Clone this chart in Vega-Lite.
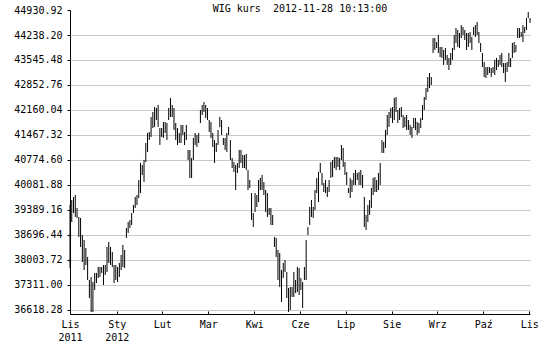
{
  "$schema": "https://vega.github.io/schema/vega-lite/v6.json",
  "width": 460,
  "height": 304,
  "autosize": "none",
  "padding": {"left": 70, "top": 10, "right": 20, "bottom": 36},
  "background": "white",
  "title": {"text": "WIG kurs\u00a0 2012-11-28 10:13:00", "font": "DejaVu Sans Mono", "fontSize": 10, "fontWeight": "normal", "color": "black", "anchor": "middle", "offset": -9},
  "config": {"view": {"stroke": null}},
  "data": {"values": [
{"i":0,"lo":37782,"hi":39528},{"i":1,"lo":39057,"hi":39666},{"i":2,"lo":39306,"hi":39750},{"i":3,"lo":39196,"hi":39805},{"i":4,"lo":39168,"hi":39445},
{"i":5,"lo":38641,"hi":39196},{"i":6,"lo":38364,"hi":39168},{"i":7,"lo":37948,"hi":38697},{"i":8,"lo":37727,"hi":38558},{"i":9,"lo":37865,"hi":38336},
{"i":10,"lo":37450,"hi":38087},{"i":11,"lo":36951,"hi":37450},{"i":12,"lo":36563,"hi":37533},{"i":13,"lo":36563,"hi":37393},{"i":14,"lo":37172,"hi":37644},
{"i":15,"lo":37366,"hi":37644},{"i":16,"lo":37505,"hi":37810},{"i":17,"lo":37533,"hi":37810},{"i":18,"lo":37644,"hi":37810},{"i":19,"lo":37311,"hi":37865},
{"i":20,"lo":37588,"hi":37865},{"i":21,"lo":37671,"hi":38364},{"i":22,"lo":37921,"hi":38503},{"i":23,"lo":37865,"hi":38364},{"i":24,"lo":37810,"hi":38226},
{"i":25,"lo":37366,"hi":37865},{"i":26,"lo":37450,"hi":37865},{"i":27,"lo":37393,"hi":37810},{"i":28,"lo":37533,"hi":37921},{"i":29,"lo":37727,"hi":38142},
{"i":30,"lo":37810,"hi":38420},{"i":31,"lo":37782,"hi":38281},{"i":32,"lo":38614,"hi":38891},{"i":33,"lo":38752,"hi":39057},{"i":34,"lo":38891,"hi":39113},
{"i":35,"lo":38974,"hi":39306},{"i":36,"lo":39306,"hi":39528},{"i":37,"lo":39445,"hi":39750},{"i":38,"lo":39528,"hi":39805},{"i":39,"lo":39722,"hi":40221},
{"i":40,"lo":39860,"hi":40692},{"i":41,"lo":40359,"hi":40636},{"i":42,"lo":40165,"hi":40775},{"i":43,"lo":40719,"hi":41246},{"i":44,"lo":40997,"hi":41523},
{"i":45,"lo":41329,"hi":41550},{"i":46,"lo":41412,"hi":41966},{"i":47,"lo":41661,"hi":42105},{"i":48,"lo":41689,"hi":42243},{"i":49,"lo":41883,"hi":42216},
{"i":50,"lo":41689,"hi":42299},{"i":51,"lo":41191,"hi":41661},{"i":52,"lo":41412,"hi":41661},{"i":53,"lo":41385,"hi":41828},{"i":54,"lo":41523,"hi":41828},
{"i":55,"lo":41329,"hi":41800},{"i":56,"lo":41883,"hi":42216},{"i":57,"lo":41966,"hi":42493},{"i":58,"lo":41966,"hi":42299},{"i":59,"lo":41606,"hi":42216},
{"i":60,"lo":41329,"hi":41800},{"i":61,"lo":41191,"hi":41661},{"i":62,"lo":41246,"hi":41523},{"i":63,"lo":41246,"hi":41745},{"i":64,"lo":41467,"hi":41745},
{"i":65,"lo":41191,"hi":41550},{"i":66,"lo":41329,"hi":41745},{"i":67,"lo":40775,"hi":41052},{"i":68,"lo":40276,"hi":41052},{"i":69,"lo":40276,"hi":40830},
{"i":70,"lo":40775,"hi":41385},{"i":71,"lo":41191,"hi":41523},{"i":72,"lo":41135,"hi":41467},{"i":73,"lo":41246,"hi":41523},{"i":74,"lo":41800,"hi":42160},
{"i":75,"lo":42022,"hi":42299},{"i":76,"lo":42105,"hi":42382},{"i":77,"lo":41939,"hi":42299},{"i":78,"lo":41883,"hi":42216},{"i":79,"lo":41550,"hi":41883},
{"i":80,"lo":41385,"hi":41828},{"i":81,"lo":41135,"hi":41523},{"i":82,"lo":40692,"hi":41329},{"i":83,"lo":40997,"hi":41246},{"i":84,"lo":41191,"hi":41606},
{"i":85,"lo":41689,"hi":41966},{"i":86,"lo":41467,"hi":41883},{"i":87,"lo":41191,"hi":41385},{"i":88,"lo":41052,"hi":41385},{"i":89,"lo":40997,"hi":41523},
{"i":90,"lo":41467,"hi":41689},{"i":91,"lo":40775,"hi":41329},{"i":92,"lo":40553,"hi":40830},{"i":93,"lo":40442,"hi":40719},{"i":94,"lo":39943,"hi":40636},
{"i":95,"lo":40415,"hi":40692},{"i":96,"lo":40553,"hi":41052},{"i":97,"lo":40692,"hi":41052},{"i":98,"lo":40553,"hi":40913},{"i":99,"lo":40553,"hi":40913},
{"i":100,"lo":40498,"hi":40941},{"i":101,"lo":39943,"hi":40498},{"i":102,"lo":39999,"hi":40221},{"i":103,"lo":39113,"hi":39860},{"i":104,"lo":38918,"hi":39306},
{"i":105,"lo":39334,"hi":39860},{"i":106,"lo":39472,"hi":39805},{"i":107,"lo":39611,"hi":40221},{"i":108,"lo":39943,"hi":40276},{"i":109,"lo":39943,"hi":40359},
{"i":110,"lo":39805,"hi":40165},{"i":111,"lo":39334,"hi":39943},{"i":112,"lo":39196,"hi":39860},{"i":113,"lo":39251,"hi":39445},{"i":114,"lo":38974,"hi":39445},
{"i":115,"lo":38974,"hi":39251},{"i":116,"lo":38364,"hi":38641},{"i":117,"lo":38087,"hi":38614},{"i":118,"lo":37450,"hi":38281},{"i":119,"lo":37256,"hi":38198},
{"i":120,"lo":36840,"hi":37727},{"i":121,"lo":37505,"hi":37921},{"i":122,"lo":37671,"hi":38004},{"i":123,"lo":36951,"hi":37671},{"i":124,"lo":36563,"hi":37228},
{"i":125,"lo":36618,"hi":37256},{"i":126,"lo":36979,"hi":37256},{"i":127,"lo":36979,"hi":37671},{"i":128,"lo":37089,"hi":37450},{"i":129,"lo":37117,"hi":37810},
{"i":130,"lo":37034,"hi":37782},{"i":131,"lo":37172,"hi":37505},{"i":132,"lo":36674,"hi":37393},{"i":133,"lo":37450,"hi":37810},{"i":134,"lo":37450,"hi":38558},
{"i":135,"lo":38697,"hi":38918},{"i":136,"lo":38974,"hi":39472},{"i":137,"lo":39196,"hi":39666},{"i":138,"lo":39168,"hi":39472},{"i":139,"lo":39389,"hi":39943},
{"i":140,"lo":39860,"hi":40276},{"i":141,"lo":39611,"hi":40442},{"i":142,"lo":40415,"hi":40692},{"i":143,"lo":40082,"hi":40415},{"i":144,"lo":39888,"hi":40138},
{"i":145,"lo":39860,"hi":40221},{"i":146,"lo":39750,"hi":40026},{"i":147,"lo":39888,"hi":40221},{"i":148,"lo":40276,"hi":40719},{"i":149,"lo":40304,"hi":40775},
{"i":150,"lo":40553,"hi":40858},{"i":151,"lo":40498,"hi":40858},{"i":152,"lo":40581,"hi":40858},{"i":153,"lo":40498,"hi":40830},{"i":154,"lo":40775,"hi":41191},
{"i":155,"lo":40581,"hi":41108},{"i":156,"lo":40359,"hi":40719},{"i":157,"lo":40082,"hi":40442},{"i":158,"lo":39860,"hi":39999},{"i":159,"lo":39722,"hi":40276},
{"i":160,"lo":39888,"hi":40221},{"i":161,"lo":40082,"hi":40415},{"i":162,"lo":40082,"hi":40498},{"i":163,"lo":40221,"hi":40415},{"i":164,"lo":40082,"hi":40442},
{"i":165,"lo":40082,"hi":40498},{"i":166,"lo":39999,"hi":40359},{"i":167,"lo":38918,"hi":39750},{"i":168,"lo":38835,"hi":39251},{"i":169,"lo":39057,"hi":39528},
{"i":170,"lo":39251,"hi":39666},{"i":171,"lo":39445,"hi":39999},{"i":172,"lo":39805,"hi":40276},{"i":173,"lo":39888,"hi":40304},{"i":174,"lo":39888,"hi":40221},
{"i":175,"lo":39943,"hi":40415},{"i":176,"lo":40082,"hi":40692},{"i":177,"lo":40969,"hi":41329},{"i":178,"lo":40969,"hi":41273},{"i":179,"lo":41108,"hi":41606},
{"i":180,"lo":41467,"hi":42022},{"i":181,"lo":41689,"hi":42105},{"i":182,"lo":41939,"hi":42216},{"i":183,"lo":41800,"hi":42243},{"i":184,"lo":41883,"hi":42493},
{"i":185,"lo":42105,"hi":42520},{"i":186,"lo":41800,"hi":42160},{"i":187,"lo":41883,"hi":42216},{"i":188,"lo":41966,"hi":42243},{"i":189,"lo":41661,"hi":42022},
{"i":190,"lo":41689,"hi":41966},{"i":191,"lo":41606,"hi":42022},{"i":192,"lo":41606,"hi":41883},{"i":193,"lo":41467,"hi":41745},{"i":194,"lo":41385,"hi":41689},
{"i":195,"lo":41661,"hi":41939},{"i":196,"lo":41606,"hi":41939},{"i":197,"lo":41467,"hi":41828},{"i":198,"lo":41523,"hi":41800},{"i":199,"lo":41661,"hi":41939},
{"i":200,"lo":41883,"hi":42299},{"i":201,"lo":42160,"hi":42520},{"i":202,"lo":42437,"hi":42770},{"i":203,"lo":42659,"hi":43074},{"i":204,"lo":42770,"hi":43185},
{"i":205,"lo":42853,"hi":43074},{"i":206,"lo":43740,"hi":44155},{"i":207,"lo":43823,"hi":44155},{"i":208,"lo":43878,"hi":44044},{"i":209,"lo":43740,"hi":44238},
{"i":210,"lo":43629,"hi":43906},{"i":211,"lo":43601,"hi":43906},{"i":212,"lo":43407,"hi":43823},{"i":213,"lo":43546,"hi":43878},{"i":214,"lo":43407,"hi":43684},
{"i":215,"lo":43268,"hi":43601},{"i":216,"lo":43407,"hi":43740},{"i":217,"lo":43546,"hi":43878},{"i":218,"lo":43823,"hi":44238},{"i":219,"lo":44017,"hi":44432},
{"i":220,"lo":43906,"hi":44377},{"i":221,"lo":43878,"hi":44294},{"i":222,"lo":44155,"hi":44515},{"i":223,"lo":44238,"hi":44460},{"i":224,"lo":44100,"hi":44377},
{"i":225,"lo":43823,"hi":44294},{"i":226,"lo":43906,"hi":44294},{"i":227,"lo":44017,"hi":44321},{"i":228,"lo":43823,"hi":44183},{"i":229,"lo":44238,"hi":44460},
{"i":230,"lo":44183,"hi":44515},{"i":231,"lo":44238,"hi":44598},{"i":232,"lo":44017,"hi":44321},{"i":233,"lo":43768,"hi":44017},{"i":234,"lo":43351,"hi":43740},
{"i":235,"lo":43074,"hi":43490},{"i":236,"lo":43047,"hi":43351},{"i":237,"lo":43130,"hi":43351},{"i":238,"lo":43185,"hi":43351},{"i":239,"lo":43074,"hi":43324},
{"i":240,"lo":43185,"hi":43351},{"i":241,"lo":43130,"hi":43546},{"i":242,"lo":43268,"hi":43601},{"i":243,"lo":43351,"hi":43546},{"i":244,"lo":43407,"hi":43684},
{"i":245,"lo":43351,"hi":43740},{"i":246,"lo":43185,"hi":43462},{"i":247,"lo":42936,"hi":43462},{"i":248,"lo":43213,"hi":43490},{"i":249,"lo":43351,"hi":43740},
{"i":250,"lo":43351,"hi":43601},{"i":251,"lo":43601,"hi":44017},{"i":252,"lo":43740,"hi":44044},{"i":253,"lo":43768,"hi":43961},{"i":254,"lo":44155,"hi":44432},
{"i":255,"lo":44155,"hi":44432},{"i":256,"lo":44183,"hi":44321},{"i":257,"lo":44044,"hi":44515},{"i":258,"lo":44294,"hi":44460},{"i":259,"lo":44377,"hi":44709},
{"i":260,"lo":44709,"hi":44876},{"i":261,"lo":44571,"hi":44709}
  ]},
  "mark": {"type": "rule", "color": "black", "strokeWidth": 1},
  "encoding": {
    "x": {
      "field": "i", "type": "quantitative",
      "scale": {"domain": [0, 261], "nice": false, "zero": false},
      "axis": {
        "title": null,
        "values": [0, 26.5, 52.4, 78.5, 104.6, 130.5, 156.4, 182.5, 208.4, 234.5, 260.6],
        "labelExpr": "datum.value < 1 ? ['Lis','2011'] : datum.value < 30 ? ['Sty','2012'] : datum.value < 60 ? 'Lut' : datum.value < 90 ? 'Mar' : datum.value < 110 ? 'Kwi' : datum.value < 140 ? 'Cze' : datum.value < 170 ? 'Lip' : datum.value < 190 ? 'Sie' : datum.value < 220 ? 'Wrz' : datum.value < 250 ? 'Paź' : 'Lis'",
        "grid": false,
        "domainColor": "black", "domainWidth": 1,
        "tickColor": "black", "tickSize": -3, "tickWidth": 1,
        "labelFont": "DejaVu Sans Mono", "labelFontSize": 10, "labelColor": "black",
        "labelPadding": 8, "labelLineHeight": 13, "labelBaseline": "top", "labelFlush": false, "labelOverlap": false
      }
    },
    "y": {
      "field": "lo", "type": "quantitative",
      "scale": {"domain": [36507, 44931], "nice": false, "zero": false},
      "axis": {
        "title": null,
        "values": [36618.28, 37311.00, 38003.72, 38696.44, 39389.16, 40081.88, 40774.60, 41467.32, 42160.04, 42852.76, 43545.48, 44238.20, 44930.92],
        "format": ".2f",
        "grid": true, "gridColor": "#c8c8c8", "gridWidth": 1,
        "gridOpacity": {"condition": {"test": "datum.value > 44900", "value": 0}, "value": 1},
        "domainColor": "black", "domainWidth": 1,
        "tickColor": "black", "tickSize": 3, "tickWidth": 1,
        "labelFont": "DejaVu Sans Mono", "labelFontSize": 10, "labelColor": "black",
        "labelPadding": 5, "labelFlush": false, "labelOverlap": false
      }
    },
    "y2": {"field": "hi"}
  }
}
